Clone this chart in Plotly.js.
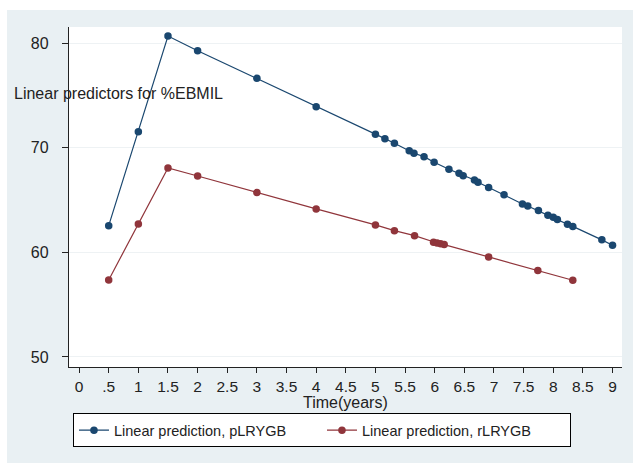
<!DOCTYPE html>
<html>
<head>
<meta charset="utf-8">
<script src="https://cdn.plot.ly/plotly-3.0.1.min.js"></script>
<style>
html,body{margin:0;padding:0;background:#ffffff;width:633px;height:463px;overflow:hidden;}
#chart{position:absolute;left:7px;top:10px;width:626px;height:453px;}
</style>
</head>
<body>
<div id="chart"></div>
<script>
// pLRYGB series
const timeP = [0.5, 1, 1.5, 2, 3, 4, 5.0, 5.16, 5.32, 5.57, 5.65, 5.82, 5.99, 6.24, 6.41, 6.48, 6.67, 6.73, 6.91, 7.17, 7.48, 7.57, 7.75, 7.91, 8.0, 8.07, 8.24, 8.33, 8.82, 9.0];
const predP = [62.56, 71.55, 80.7, 79.29, 76.65, 73.94, 71.3, 70.88, 70.44, 69.73, 69.48, 69.16, 68.62, 67.95, 67.57, 67.34, 66.93, 66.71, 66.2, 65.52, 64.63, 64.44, 64.0, 63.56, 63.37, 63.14, 62.7, 62.49, 61.2, 60.69];
// rLRYGB series
const timeR = [0.5, 1, 1.5, 2, 3, 4, 5.0, 5.32, 5.66, 5.98, 6.04, 6.1, 6.16, 6.91, 7.74, 8.33];
const predR = [57.37, 62.72, 68.08, 67.31, 65.72, 64.16, 62.63, 62.08, 61.6, 60.97, 60.9, 60.83, 60.75, 59.57, 58.26, 57.34];
// axis ticks
const xTickVals = [0, 0.5, 1, 1.5, 2, 2.5, 3, 3.5, 4, 4.5, 5, 5.5, 6, 6.5, 7, 7.5, 8, 8.5, 9];
const xTickText = ["0", ".5", "1", "1.5", "2", "2.5", "3", "3.5", "4", "4.5", "5", "5.5", "6", "6.5", "7", "7.5", "8", "8.5", "9"];
const yTickVals = [50, 60, 70, 80];
const seriesNames = ["Linear prediction, pLRYGB", "Linear prediction, rLRYGB"];
const xTitle = "Time(years)";
const yTitle = "Linear predictors for %EBMIL";

const fam = "Liberation Sans, Arial, sans-serif";
const tickFont = {family: fam, size: 16, color: "#222222"};
const xTickFont = {family: fam, size: 15.5, color: "#222222"};
const titleFont = {family: fam, size: 16, color: "#222222"};
const legendFont = {family: fam, size: 14.5, color: "#222222"};

const traces = [
  {x: timeP, y: predP, name: seriesNames[0], type: "scatter", mode: "lines+markers",
   line: {color: "#1a476f", width: 1.2}, marker: {color: "#1a476f", size: 7.5, symbol: "circle"}},
  {x: timeR, y: predR, name: seriesNames[1], type: "scatter", mode: "lines+markers",
   line: {color: "#90353b", width: 1.2}, marker: {color: "#90353b", size: 7.5, symbol: "circle"}}
];

const layout = {
  width: 626, height: 453,
  margin: {l: 62, r: 11, t: 17, b: 96},
  paper_bgcolor: "#e9f0f3",
  plot_bgcolor: "#ffffff",
  font: tickFont,
  showlegend: true,
  legend: {
    orientation: "h", x: 0.0072, xanchor: "left", y: -0.136, yanchor: "top",
    bgcolor: "#ffffff", bordercolor: "#000000", borderwidth: 1,
    font: legendFont, entrywidth: 203, entrywidthmode: "pixels"
  },
  xaxis: {
    range: [-0.17, 9.16], tickvals: xTickVals, ticktext: xTickText,
    showline: true, linecolor: "#222222", linewidth: 1.2,
    ticks: "outside", ticklen: 5, tickcolor: "#222222", tickfont: xTickFont,
    showgrid: false, zeroline: false
  },
  yaxis: {
    range: [49.04, 81.56], tickvals: yTickVals,
    showline: true, linecolor: "#222222", linewidth: 1.2,
    ticks: "outside", ticklen: 6, tickcolor: "#222222", tickfont: tickFont,
    showgrid: true, gridcolor: "#eef2f4", gridwidth: 1,
    zeroline: false, ticklabelstandoff: 10
  },
  annotations: [
    {text: yTitle, xref: "paper", yref: "paper",
     x: -0.103, y: 0.803, xanchor: "left", yanchor: "middle", showarrow: false, font: titleFont},
    {text: xTitle, xref: "paper", yref: "paper", borderpad: 0,
     x: 0.5, y: -0.0765, xanchor: "center", yanchor: "top", showarrow: false, font: titleFont}
  ]
};

Plotly.newPlot("chart", traces, layout, {displayModeBar: false, staticPlot: true});
</script>
</body>
</html>
